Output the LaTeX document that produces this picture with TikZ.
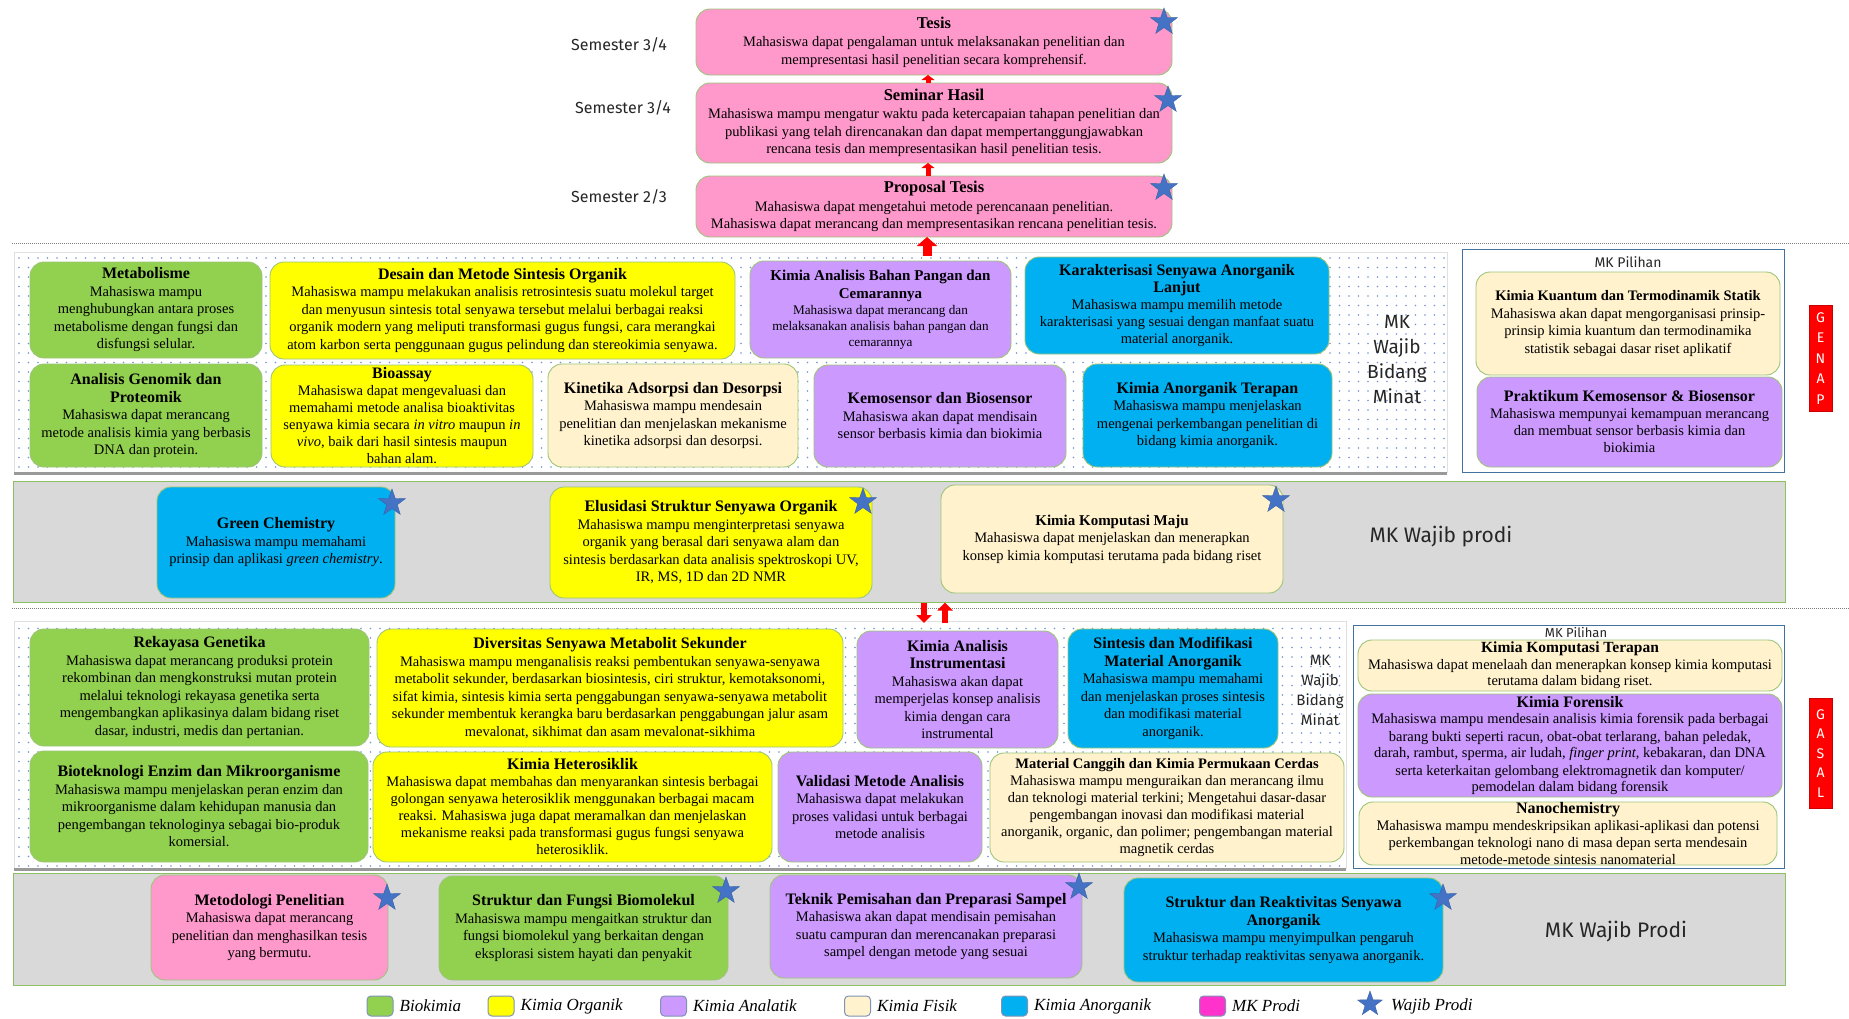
\documentclass[tikz,border=0pt]{standalone}
\usepackage{fontspec}
\setmainfont{Liberation Serif}
\newfontfamily\hand{Fira Sans}
\usetikzlibrary{shapes.geometric,patterns.meta,arrows.meta}
\definecolor{cgreen}{HTML}{92D050}
\definecolor{cyellow}{HTML}{FFFF00}
\definecolor{cpurple}{HTML}{CC99FF}
\definecolor{ccream}{HTML}{FFF2CC}
\definecolor{ccyan}{HTML}{00B0F0}
\definecolor{cpink}{HTML}{FF99CC}
\definecolor{cmag}{HTML}{FF33CC}
\definecolor{bord}{HTML}{9DC57A}
\definecolor{starblue}{HTML}{4472C4}
\definecolor{bandgray}{HTML}{D9D9D9}
\definecolor{bandbord}{HTML}{8DC063}
\definecolor{pilbord}{HTML}{41719C}
\definecolor{dotc}{HTML}{7394CF}
\definecolor{sepc}{HTML}{808080}
\definecolor{legbord}{HTML}{7F93B5}
\tikzset{
  cbox/.style={draw=bord, line width=0.9pt, rounded corners=14pt, inner sep=0pt, outer sep=0pt},
  btext/.style={align=center, inner sep=0pt, text=black},
  wstar/.style={star, star points=5, star point ratio=2.5, fill=starblue, draw=starblue!85!black, line width=0.4pt, minimum size=28pt, inner sep=0pt},
  rarrow/.style={draw=red, line width=5pt, -{Triangle[width=13pt,length=5pt]}},
  bigarrow/.style={draw=red, line width=9pt, -{Triangle[width=20pt,length=9pt]}},
  marrow/.style={draw=red, line width=6pt, -{Triangle[width=15pt,length=8pt]}},
  band/.style={draw=bandbord, fill=bandgray, line width=1pt, inner sep=0pt},
  region/.style={draw=black!12, line width=0.6pt, pattern={Dots[distance=9.5pt,radius=0.9pt]}, pattern color=dotc, inner sep=0pt},
  pilbox/.style={draw=pilbord, line width=1pt, fill=white, inner sep=0pt},
  sepline/.style={draw=sepc, line width=1pt, dash pattern=on 1pt off 1pt},
  shadowline/.style={draw=black!40, line width=2.5pt},
  hlabel/.style={align=center, inner sep=0pt, text=black!85},
  redlbl/.style={fill=red, draw=red!80!black, line width=0.5pt, text=white, align=center, inner sep=0pt},
  legsq/.style={draw=legbord, line width=1pt, rounded corners=4pt, minimum width=26pt, minimum height=20pt, inner sep=0pt},
  legtxt/.style={font=\itshape\fontsize{17}{17}\selectfont, anchor=west, inner sep=0pt},
}
\newcommand\ti[2]{{\fontsize{#1}{#1}\selectfont\bfseries #2}}
\newcommand\bx[9]{%
  \node[cbox, fill=#2, minimum width={(#5-#3)*1pt}, minimum height={(#6-#4)*1pt}] (#1) at ({(#3+#5)/2},{(#4+#6)/2}) {};
  \node[btext, font={\fontsize{#7}{#8}\selectfont}] (#1t) at (#1.center) {#9};}
\begin{document}
\begin{tikzpicture}[x=1pt,y=-1pt]
\path[use as bounding box, fill=white] (0,0) rectangle (1849,1018);

% separators
\draw[sepline] (12,243) -- (1849,243);
\draw[sepline] (12,608) -- (1849,608);

% regions and bands
\node[region, minimum width=1433pt, minimum height=220pt] (genapreg) at (730.5,362) {};
\draw[shadowline] ([yshift=-1pt]genapreg.south west) -- ([yshift=-1pt]genapreg.south east);
\node[pilbox, minimum width=322pt, minimum height=223pt] (pil1) at (1623,360.5) {};
\node[hlabel, font=\hand\fontsize{14}{14}\selectfont] (pil1t) at (1628,262) {MK Pilihan};

\node[band, minimum width=1772pt, minimum height=121pt] (band1) at (899,541.5) {};

\node[region, minimum width=1332pt, minimum height=247pt] (gasalreg) at (680,744.5) {};
\draw[shadowline] ([yshift=-1pt]gasalreg.south west) -- ([yshift=-1pt]gasalreg.south east);
\node[pilbox, minimum width=431pt, minimum height=243pt] (pil2) at (1568.5,746.5) {};
\node[hlabel, font=\hand\fontsize{13}{13}\selectfont] (pil2t) at (1576,632) {MK Pilihan};

\node[band, minimum width=1772pt, minimum height=112pt] (band2) at (899,929) {};

% top boxes
\bx{tesis}{cpink}{696}{9}{1172}{75}{14.5}{17.5}{\ti{16.5}{Tesis}\\[1pt]Mahasiswa dapat pengalaman untuk melaksanakan penelitian dan\\mempresentasi hasil penelitian secara komprehensif.}
\bx{seminar}{cpink}{696}{83}{1172}{163}{14.5}{17.5}{\ti{16.5}{Seminar Hasil}\\[1pt]Mahasiswa mampu mengatur waktu pada ketercapaian tahapan penelitian dan\\publikasi yang telah direncanakan dan dapat mempertanggungjawabkan\\rencana tesis dan mempresentasikan hasil penelitian tesis.}
\bx{proposal}{cpink}{696}{176}{1172}{237}{14.5}{17.5}{\ti{16.5}{Proposal Tesis}\\[1pt]Mahasiswa dapat mengetahui metode perencanaan penelitian.\\Mahasiswa dapat merancang dan mempresentasikan rencana penelitian tesis.}

% semester labels
\node[hlabel, font=\hand\fontsize{16}{16}\selectfont] (sem1) at (619,45) {Semester 3/4};
\node[hlabel, font=\hand\fontsize{16}{16}\selectfont] (sem2) at (623,108) {Semester 3/4};
\node[hlabel, font=\hand\fontsize{16}{16}\selectfont] (sem3) at (619,197) {Semester 2/3};

% genap
\bx{metab}{cgreen}{30}{262}{262}{358}{14.5}{17.5}{\ti{16}{Metabolisme}\\Mahasiswa mampu\\menghubungkan antara proses\\metabolisme dengan fungsi dan\\disfungsi selular.}
\bx{desain}{cyellow}{270}{262}{735}{359}{14.5}{17.5}{\ti{16}{Desain dan Metode Sintesis Organik}\\Mahasiswa mampu melakukan analisis retrosintesis suatu molekul target\\dan menyusun sintesis total senyawa tersebut melalui berbagai reaksi\\organik modern yang meliputi transformasi gugus fungsi, cara merangkai\\atom karbon serta penggunaan gugus pelindung dan stereokimia senyawa.}
\bx{pangan}{cpurple}{750}{261}{1011}{358}{13.2}{16}{\ti{15}{Kimia Analisis Bahan Pangan dan}\\[2pt]\ti{15}{Cemarannya}\\Mahasiswa dapat merancang dan\\melaksanakan analisis bahan pangan dan\\cemarannya}
\bx{karak}{ccyan}{1025}{257}{1329}{354}{14.5}{17}{\ti{16}{Karakterisasi Senyawa Anorganik}\\\ti{16}{Lanjut}\\Mahasiswa mampu memilih metode\\karakterisasi yang sesuai dengan manfaat suatu\\material anorganik.}
\bx{genomik}{cgreen}{30}{364}{262}{467}{14.5}{17.5}{\ti{16}{Analisis Genomik dan}\\\ti{16}{Proteomik}\\Mahasiswa dapat merancang\\metode analisis kimia yang berbasis\\DNA dan protein.}
\bx{bioassay}{cyellow}{271}{365}{533}{467}{14.5}{17}{\ti{16}{Bioassay}\\Mahasiswa dapat mengevaluasi dan\\memahami metode analisa bioaktivitas\\senyawa kimia secara \textit{in vitro} maupun \textit{in}\\\textit{vivo}, baik dari hasil sintesis maupun\\bahan alam.}
\bx{kinetika}{ccream}{548}{364}{798}{467}{14.5}{17.5}{\ti{16}{Kinetika Adsorpsi dan Desorpsi}\\Mahasiswa mampu mendesain\\penelitian dan menjelaskan mekanisme\\kinetika adsorpsi dan desorpsi.}
\bx{kemo}{cpurple}{814}{365}{1066}{467}{14.5}{17.5}{\ti{16}{Kemosensor dan Biosensor}\\Mahasiswa akan dapat mendisain\\sensor berbasis kimia dan biokimia}
\bx{anorgter}{ccyan}{1083}{364}{1332}{467}{14.5}{17.5}{\ti{16}{Kimia Anorganik Terapan}\\Mahasiswa mampu menjelaskan\\mengenai perkembangan penelitian di\\bidang kimia anorganik.}
\node[hlabel, font=\hand\fontsize{19}{25}\selectfont] (wbm1) at (1397,360) {MK\\Wajib\\Bidang\\Minat};
\bx{kuantum}{ccream}{1476}{272}{1780}{375}{14.5}{17.5}{\ti{14.5}{Kimia Kuantum dan Termodinamik Statik}\\Mahasiswa akan dapat mengorganisasi prinsip-\\prinsip kimia kuantum dan termodinamika\\statistik sebagai dasar riset aplikatif}
\bx{praktikum}{cpurple}{1477}{377}{1782}{467}{14.5}{17}{\ti{16}{Praktikum Kemosensor \& Biosensor}\\Mahasiswa mempunyai kemampuan merancang\\dan membuat sensor berbasis kimia dan\\biokimia}
\node[redlbl, minimum width=23pt, minimum height=106pt, font=\hand\fontsize{14}{20.5}\selectfont] (genap) at (1820.5,358.5) {G\\E\\N\\A\\P};

% MK wajib prodi (middle)
\bx{green}{ccyan}{157}{487}{395}{598}{14.5}{17.5}{\ti{16}{Green Chemistry}\\Mahasiswa mampu memahami\\prinsip dan aplikasi \textit{green chemistry}.}
\bx{elusi}{cyellow}{550}{487}{872}{598}{14.5}{17.5}{\ti{16}{Elusidasi Struktur Senyawa Organik}\\Mahasiswa mampu menginterpretasi senyawa\\organik yang berasal dari senyawa alam dan\\sintesis berdasarkan data analisis spektroskopi UV,\\IR, MS, 1D dan 2D NMR}
\bx{kompmaju}{ccream}{941}{485}{1283}{593}{14.5}{17.5}{\ti{15}{Kimia Komputasi Maju}\\Mahasiswa dapat menjelaskan dan menerapkan\\konsep kimia komputasi terutama pada bidang riset}
\node[hlabel, font=\hand\fontsize{21}{21}\selectfont] (wp1) at (1441,537) {MK Wajib prodi};

% gasal
\bx{rekayasa}{cgreen}{30}{629}{369}{746}{14.5}{17.5}{\ti{16}{Rekayasa Genetika}\\Mahasiswa dapat merancang produksi protein\\rekombinan dan mengkonstruksi mutan protein\\melalui teknologi rekayasa genetika serta\\mengembangkan aplikasinya dalam bidang riset\\dasar, industri, medis dan pertanian.}
\bx{diversitas}{cyellow}{377}{629}{843}{747}{14.5}{17.5}{\ti{16}{Diversitas Senyawa Metabolit Sekunder}\\Mahasiswa mampu menganalisis reaksi pembentukan senyawa-senyawa\\metabolit sekunder, berdasarkan biosintesis, ciri struktur, kemotaksonomi,\\sifat kimia, sintesis kimia serta penggabungan senyawa-senyawa metabolit\\sekunder membentuk kerangka baru berdasarkan penggabungan jalur asam\\mevalonat, sikhimat dan asam mevalonat-sikhima}
\bx{instrumen}{cpurple}{857}{631}{1058}{748}{14.5}{17.5}{\ti{16}{Kimia Analisis}\\\ti{16}{Instrumentasi}\\Mahasiswa akan dapat\\memperjelas konsep analisis\\kimia dengan cara\\instrumental}
\bx{sintmod}{ccyan}{1068}{629}{1278}{748}{14.5}{17.5}{\ti{16}{Sintesis dan Modifikasi}\\\ti{16}{Material Anorganik}\\Mahasiswa mampu memahami\\dan menjelaskan proses sintesis\\dan modifikasi material\\anorganik.}
\node[hlabel, font=\hand\fontsize{15}{20}\selectfont] (wbm2) at (1320,690) {MK\\Wajib\\Bidang\\Minat};
\bx{biotek}{cgreen}{30}{751}{368}{862}{14.5}{17.5}{\ti{16}{Bioteknologi Enzim dan Mikroorganisme}\\Mahasiswa mampu menjelaskan peran enzim dan\\mikroorganisme dalam kehidupan manusia dan\\pengembangan teknologinya sebagai bio-produk\\komersial.}
\bx{hetero}{cyellow}{373}{752}{772}{862}{14.5}{17}{\ti{16}{Kimia Heterosiklik}\\Mahasiswa dapat membahas dan menyarankan sintesis berbagai\\golongan senyawa heterosiklik menggunakan berbagai macam\\reaksi. Mahasiswa juga dapat meramalkan dan menjelaskan\\mekanisme reaksi pada transformasi gugus fungsi senyawa\\heterosiklik.}
\bx{validasi}{cpurple}{778}{752}{982}{862}{14.5}{17.5}{\ti{16}{Validasi Metode Analisis}\\Mahasiswa dapat melakukan\\proses validasi untuk berbagai\\metode analisis}
\bx{material}{ccream}{990}{753}{1344}{862}{14.5}{17}{\ti{14.5}{Material Canggih dan Kimia Permukaan Cerdas}\\Mahasiswa mampu menguraikan dan merancang ilmu\\dan teknologi material terkini; Mengetahui dasar-dasar\\pengembangan inovasi dan modifikasi material\\anorganik, organic, dan polimer; pengembangan material\\magnetik cerdas}
\bx{kompter}{ccream}{1358}{640}{1782}{691}{14.5}{16.5}{\ti{15.5}{Kimia Komputasi Terapan}\\Mahasiswa dapat menelaah dan menerapkan konsep kimia komputasi\\terutama dalam bidang riset.}
\bx{forensik}{cpurple}{1358}{694}{1782}{797}{14.5}{17}{\ti{16}{Kimia Forensik}\\Mahasiswa mampu mendesain analisis kimia forensik pada berbagai\\barang bukti seperti racun, obat-obat terlarang, bahan peledak,\\darah, rambut, sperma, air ludah, \textit{finger print}, kebakaran, dan DNA\\serta keterkaitan gelombang elektromagnetik dan komputer/\\pemodelan dalam bidang forensik}
\bx{nano}{ccream}{1359}{802}{1777}{865}{14.5}{17}{\ti{16}{Nanochemistry}\\Mahasiswa mampu mendeskripsikan aplikasi-aplikasi dan potensi\\perkembangan teknologi nano di masa depan serta mendesain\\metode-metode sintesis nanomaterial}
\node[redlbl, minimum width=23pt, minimum height=110pt, font=\hand\fontsize{14}{19.5}\selectfont] (gasal) at (1820.5,753.5) {G\\A\\S\\A\\L};

% bottom band
\bx{metod}{cpink}{151}{875}{388}{980}{14.5}{17.5}{\ti{16}{Metodologi Penelitian}\\Mahasiswa dapat merancang\\penelitian dan menghasilkan tesis\\yang bermutu.}
\bx{biomol}{cgreen}{439}{876}{728}{980}{14.5}{17.5}{\ti{16}{Struktur dan Fungsi Biomolekul}\\Mahasiswa mampu mengaitkan struktur dan\\fungsi biomolekul yang berkaitan dengan\\eksplorasi sistem hayati dan penyakit}
\bx{teknik}{cpurple}{770}{875}{1082}{978}{14.5}{17.5}{\ti{16}{Teknik Pemisahan dan Preparasi Sampel}\\Mahasiswa akan dapat mendisain pemisahan\\suatu campuran dan merencanakan preparasi\\sampel dengan metode yang sesuai}
\bx{reaktiv}{ccyan}{1124}{878}{1443}{982}{14.5}{17.5}{\ti{16}{Struktur dan Reaktivitas Senyawa}\\\ti{16}{Anorganik}\\Mahasiswa mampu menyimpulkan pengaruh\\struktur terhadap reaktivitas senyawa anorganik.}
\node[hlabel, font=\hand\fontsize{21}{21}\selectfont] (wp2) at (1616,932) {MK Wajib Prodi};

% stars
\node[wstar] (st1) at (1164,22) {};
\node[wstar] (st2) at (1168,100) {};
\node[wstar] (st3) at (1164,188) {};
\node[wstar] (st4) at (392,503) {};
\node[wstar] (st5) at (863,502) {};
\node[wstar] (st6) at (1276,500) {};
\node[wstar] (st7) at (387,898) {};
\node[wstar] (st8) at (726,891) {};
\node[wstar] (st9) at (1079,887) {};
\node[wstar] (st10) at (1443,898) {};

% arrows
\draw[rarrow] ([xshift=-6pt]seminar.north) -- ([xshift=-6pt]tesis.south);
\draw[rarrow] ([xshift=-6pt]proposal.north) -- ([xshift=-6pt]seminar.south);
\coordinate (gtop) at (927,256);
\draw[bigarrow] (gtop) -- (gtop |- proposal.south);
\coordinate (dnend) at (924,623);
\draw[marrow] (dnend |- band1.south) -- (dnend);
\coordinate (upstart) at (945,623);
\draw[marrow] (upstart) -- (upstart |- band1.south);

% legend
\node[legsq, fill=cgreen] (lg1) at (380,1006) {};
\node[legtxt] (lg1t) at ([xshift=6pt]lg1.east) {Biokimia};
\node[legsq, fill=cyellow] (lg2) at (501,1006) {};
\node[legtxt] (lg2t) at ([xshift=6pt]lg2.east) {Kimia Organik};
\node[legsq, fill=cpurple] (lg3) at (673.5,1006) {};
\node[legtxt] (lg3t) at ([xshift=6pt]lg3.east) {Kimia Analatik};
\node[legsq, fill=ccream] (lg4) at (857.5,1006) {};
\node[legtxt] (lg4t) at ([xshift=6pt]lg4.east) {Kimia Fisik};
\node[legsq, fill=ccyan] (lg5) at (1014.5,1006) {};
\node[legtxt] (lg5t) at ([xshift=6pt]lg5.east) {Kimia Anorganik};
\node[legsq, fill=cmag] (lg6) at (1212.5,1006) {};
\node[legtxt] (lg6t) at ([xshift=6pt]lg6.east) {MK Prodi};
\node[wstar, minimum size=26pt] (lg7) at (1370,1004) {};
\node[legtxt] (lg7t) at (1391,1006) {Wajib Prodi};
\end{tikzpicture}
\end{document}
